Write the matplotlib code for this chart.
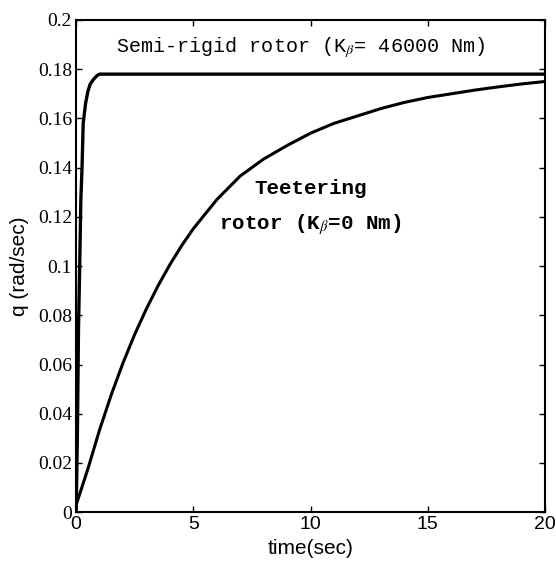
import matplotlib.pyplot as plt

# time (sec) and pitch rate q (rad/sec)
t_semi = [0, 0.05, 0.1, 0.15, 0.2, 0.25, 0.3, 0.4, 0.5, 0.6, 0.75, 0.9, 1.0, 1.2, 20]
q_semi = [0, 0.03, 0.075, 0.1, 0.127, 0.14, 0.158, 0.166, 0.171, 0.174, 0.176, 0.1775, 0.178, 0.178, 0.178]

t_teeter = [0, 0.5, 1, 1.5, 2, 2.5, 3, 3.5, 4, 4.5, 5, 6, 7, 8, 9, 10,
            11, 12, 13, 14, 15, 16, 17, 18, 19, 20]
q_teeter = [0.003, 0.0176, 0.0335, 0.0478, 0.0607, 0.0723, 0.0827, 0.0921, 0.1006,
            0.1083, 0.1152, 0.127, 0.1366, 0.1435, 0.149, 0.154, 0.158, 0.161,
            0.164, 0.1665, 0.1685, 0.170, 0.1715, 0.1728, 0.174, 0.175]

xticks = [0, 5, 10, 15, 20]
yticks = [0, 0.02, 0.04, 0.06, 0.08, 0.1, 0.12, 0.14, 0.16, 0.18, 0.2]
ytick_labels = ["0", "0.02", "0.04", "0.06", "0.08", "0.1", "0.12", "0.14", "0.16", "0.18", "0.2"]

plt.rcParams['mathtext.fontset'] = 'stix'

fig = plt.figure(figsize=(5.56, 5.71), dpi=100)
ax = fig.add_axes([0.137, 0.103, 0.843, 0.862])

ax.plot(t_semi, q_semi, color='black', linewidth=2.4)
ax.plot(t_teeter, q_teeter, color='black', linewidth=2.2)

ax.set_xlim(0, 20)
ax.set_ylim(0, 0.2)
ax.set_xticks(xticks)
ax.set_xticklabels([str(v) for v in xticks], fontfamily='Liberation Sans', fontsize=14)
ax.set_yticks(yticks)
ax.set_yticklabels(ytick_labels, fontfamily='Liberation Serif', fontsize=14)
ax.tick_params(direction='in', top=True, right=True, length=4, width=1, pad=3)
for s in ax.spines.values():
    s.set_linewidth(1.5)

ax.set_xlabel("time(sec)", fontfamily='Liberation Sans', fontsize=15, labelpad=4)
ax.set_ylabel("q (rad/sec)", fontfamily='Liberation Sans', fontsize=15, labelpad=6)

# annotations in typewriter font
ax.text(9.6, 0.1886, r"Semi-rigid rotor (K$_{\beta}$= 46000 Nm)",
        fontfamily='Liberation Mono', fontsize=14.5, ha='center', va='center')
ax.text(10.0, 0.1315, "Teetering", fontfamily='Liberation Mono', fontsize=15,
        fontweight='bold', ha='center', va='center')
ax.text(10.0, 0.117, r"rotor (K$_{\beta}$=0 Nm)", fontfamily='Liberation Mono',
        fontsize=15, fontweight='bold', ha='center', va='center')

fig.savefig("out.png", dpi=100)
